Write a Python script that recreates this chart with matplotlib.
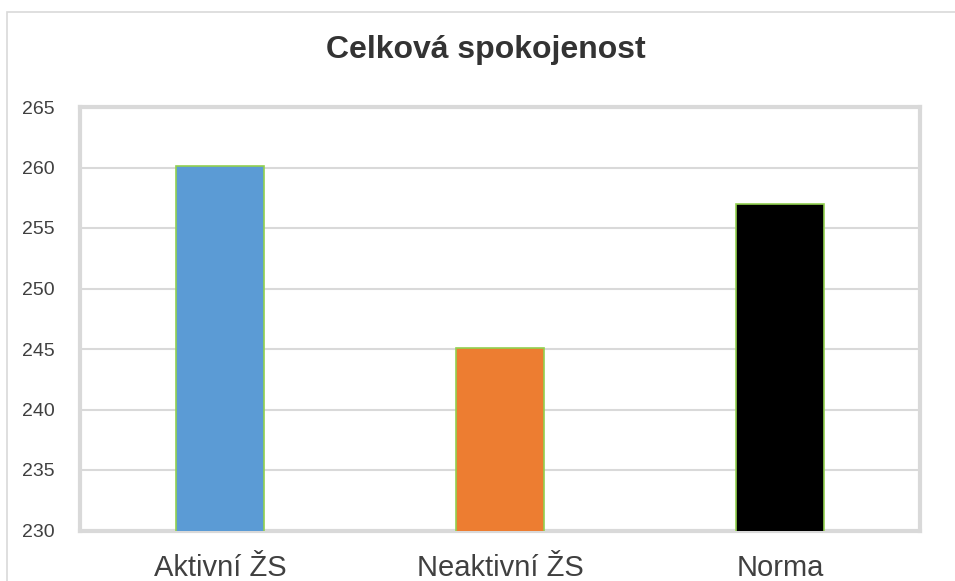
import matplotlib
matplotlib.use("Agg")
import matplotlib.pyplot as plt
from matplotlib.patches import Rectangle

categories = ["Aktivní ŽS", "Neaktivní ŽS", "Norma"]
values = [260.1, 245.1, 257.0]
colors = ["#5b9bd5", "#ed7d31", "#000000"]
yticks = [230, 235, 240, 245, 250, 255, 260, 265]
title = "Celková spokojenost"

plt.rcParams['font.family'] = ['Liberation Sans', 'DejaVu Sans']

fig = plt.figure(figsize=(9.55, 5.81), dpi=100)
fig.patch.set_facecolor("white")
# outer chart border
fig.add_artist(Rectangle((7/955, -0.1), 1.0, 1 - 12/581 + 0.1, transform=fig.transFigure,
                         fill=False, edgecolor="#d9d9d9", linewidth=1.2))

ax = fig.add_axes([80/955, 1 - 530.5/581, 840/955, (530.5 - 107)/581])
x = list(range(len(categories)))
ax.bar(x, values, width=0.315, color=colors, edgecolor="#92d050", linewidth=1.2, zorder=3)
ax.set_xlim(-0.5, 2.5)
ax.set_ylim(230, 265)
ax.set_yticks(yticks)
ax.set_yticklabels([str(t) for t in yticks])
ax.set_xticks(x)
ax.set_xticklabels(categories)
ax.grid(axis="y", color="#d9d9d9", linewidth=1.5, zorder=0)
for s in ax.spines.values():
    s.set_color("#d9d9d9")
    s.set_linewidth(3.0)
ax.tick_params(axis="y", length=0, pad=18, labelsize=14, labelcolor="#404040")
ax.tick_params(axis="x", length=0, pad=17, labelsize=21, labelcolor="#404040")
for lab in ax.get_yticklabels():
    lab.set_horizontalalignment("right")

fig.text(486/955, 1 - 50/581, title, ha="center", va="center", fontsize=23,
         fontweight="bold", color="#333333")

fig.savefig("out.png", dpi=100)
